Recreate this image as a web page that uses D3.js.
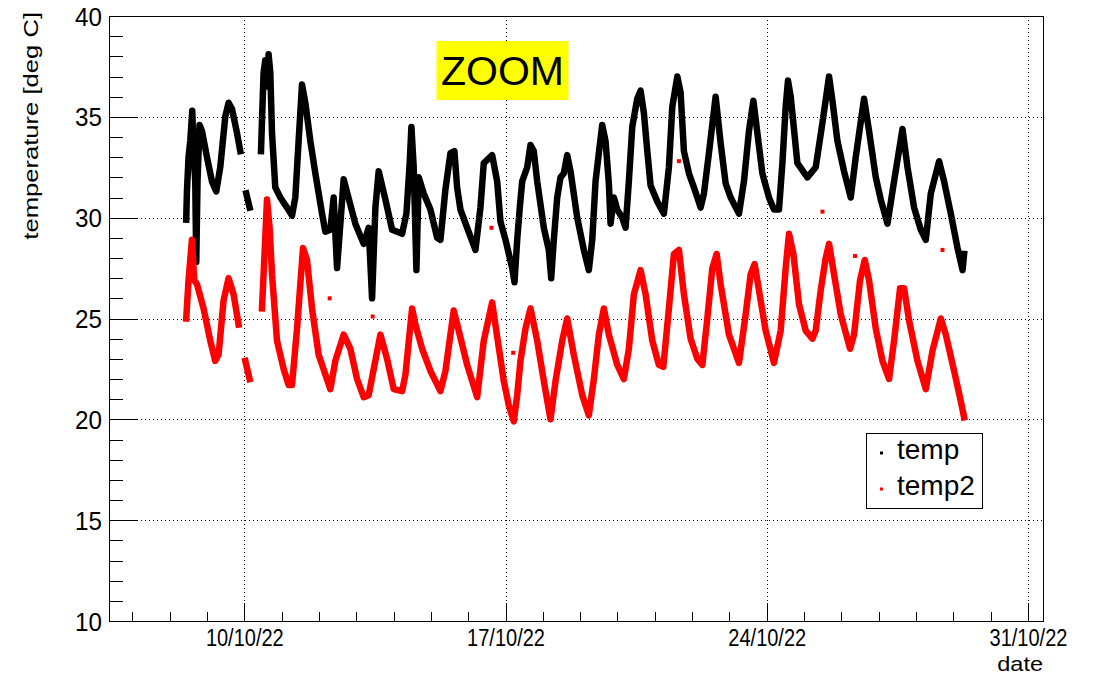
<!DOCTYPE html>
<html>
<head>
<meta charset="utf-8">
<script src="https://cdn.jsdelivr.net/npm/d3@7"></script>
<style>
  html, body { margin: 0; padding: 0; background: #fff; }
  svg { display: block; }
  text { font-family: "Liberation Sans", Arial, Helvetica, sans-serif; fill: #000; }
</style>
</head>
<body>
<svg id="chart" width="1102" height="677"></svg>
<script>
// ---------------- data ----------------
const xDomain = ["2022-10-06 09:00", "2022-10-31 09:40"];
const yDomain = [10, 40];
const xMajorTicks = ["2022-10-10 00:00", "2022-10-17 00:00", "2022-10-24 00:00", "2022-10-31 00:00"];
const yMajorTicks = [10, 15, 20, 25, 30, 35, 40];
const seriesNames = ["temp", "temp2"];
const seriesColors = ["#000000", "#ff0000"];

// null entries mark gaps in the recording
const tempTimes = [
  "2022-10-08 10:40","2022-10-08 11:07","2022-10-08 12:09","2022-10-08 13:15","2022-10-08 14:32",
  "2022-10-08 15:22","2022-10-08 16:28","2022-10-08 17:07","2022-10-08 17:56","2022-10-08 19:14",
  "2022-10-08 20:47","2022-10-09 00:00","2022-10-09 03:13","2022-10-09 05:59","2022-10-09 08:33",
  "2022-10-09 11:46","2022-10-09 13:54","2022-10-09 16:05","2022-10-09 19:18","2022-10-09 21:26",
  "2022-10-09 23:00",
  "2022-10-10 01:17","2022-10-10 03:25",
  "2022-10-10 07:00",
  "2022-10-10 10:45","2022-10-10 12:25","2022-10-10 13:31","2022-10-10 14:37","2022-10-10 15:38",
  "2022-10-10 16:44","2022-10-10 17:50","2022-10-10 19:57","2022-10-10 23:10","2022-10-11 03:29",
  "2022-10-11 06:42","2022-10-11 08:49","2022-10-11 10:57","2022-10-11 13:08","2022-10-11 15:16",
  "2022-10-11 18:29","2022-10-11 21:42","2022-10-12 02:01","2022-10-12 04:08","2022-10-12 07:21",
  "2022-10-12 09:28","2022-10-12 11:40","2022-10-12 15:55","2022-10-12 23:26","2022-10-13 04:47",
  "2022-10-13 08:00","2022-10-13 10:11","2022-10-13 12:19","2022-10-13 14:26","2022-10-13 18:45",
  "2022-10-13 23:04","2022-10-14 05:30","2022-10-14 08:16","2022-10-14 10:23","2022-10-14 11:29",
  "2022-10-14 12:58","2022-10-14 14:42","2022-10-14 16:11","2022-10-14 19:24","2022-10-14 23:43",
  "2022-10-15 04:01","2022-10-15 06:09","2022-10-15 09:22","2022-10-15 12:35","2022-10-15 15:09",
  "2022-10-15 16:53","2022-10-15 19:01","2022-10-15 23:20","2022-10-16 04:40","2022-10-16 07:53",
  "2022-10-16 10:01","2022-10-16 15:25","2022-10-16 18:38","2022-10-16 20:46","2022-10-17 00:00",
  "2022-10-17 04:17","2022-10-17 05:46","2022-10-17 07:31","2022-10-17 09:11","2022-10-17 10:44",
  "2022-10-17 13:57","2022-10-17 16:04","2022-10-17 18:11","2022-10-17 20:23","2022-10-18 00:38",
  "2022-10-18 03:51","2022-10-18 05:23","2022-10-18 07:04","2022-10-18 09:15","2022-10-18 11:23",
  "2022-10-18 13:30","2022-10-18 15:41","2022-10-18 17:49","2022-10-18 22:07","2022-10-19 02:22",
  "2022-10-19 05:35","2022-10-19 07:47","2022-10-19 09:54","2022-10-19 12:02","2022-10-19 14:13",
  "2022-10-19 16:20","2022-10-19 18:28","2022-10-19 19:34","2022-10-19 21:41","2022-10-19 23:52",
  "2022-10-20 03:05","2022-10-20 05:13","2022-10-20 07:20","2022-10-20 09:31","2022-10-20 12:44",
  "2022-10-20 14:52","2022-10-20 16:59","2022-10-20 19:11","2022-10-20 21:18","2022-10-21 01:37",
  "2022-10-21 03:44","2022-10-21 05:52","2022-10-21 09:05","2022-10-21 11:16","2022-10-21 14:29",
  "2022-10-21 16:37","2022-10-21 18:44","2022-10-21 21:57","2022-10-22 01:10","2022-10-22 03:22",
  "2022-10-22 05:29","2022-10-22 07:37","2022-10-22 10:49","2022-10-22 15:08","2022-10-22 18:21",
  "2022-10-22 21:34","2022-10-23 00:47","2022-10-23 06:08","2022-10-23 09:21","2022-10-23 12:34",
  "2022-10-23 15:24","2022-10-23 17:58","2022-10-23 21:11","2022-10-24 01:26","2022-10-24 04:40",
  "2022-10-24 07:53","2022-10-24 10:04","2022-10-24 12:11","2022-10-24 13:40","2022-10-24 15:25",
  "2022-10-24 19:43","2022-10-25 02:09","2022-10-25 07:30","2022-10-25 11:49","2022-10-25 16:04",
  "2022-10-25 18:15","2022-10-25 21:28","2022-10-26 01:43","2022-10-26 06:01","2022-10-26 09:14",
  "2022-10-26 14:35","2022-10-26 17:48","2022-10-26 22:07","2022-10-27 01:20","2022-10-27 05:38",
  "2022-10-27 09:53","2022-10-27 15:18","2022-10-27 18:31","2022-10-27 22:46","2022-10-28 03:04",
  "2022-10-28 06:17","2022-10-28 09:31","2022-10-28 14:51","2022-10-28 18:04","2022-10-28 22:23",
  "2022-10-29 02:41","2022-10-29 05:55","2022-10-29 06:56"
];
const tempValues = [
  29.9,31.3,33.0,33.8,35.3, 33.3,31.8,27.8,31.8,34.6, 34.3,33.0,31.8,31.3,32.5,
  35.0,35.7,35.4,34.2,33.3,
  null,
  31.2,30.5,
  null,
  33.3,37.2,37.8,36.5,38.1, 37.2,34.2,31.5,31.0,30.5, 30.1,31.0,33.8,36.6,35.7,
  33.8,32.2,30.2,29.3,29.4, 31.0,27.5,31.9,29.7,28.7, 29.5,26.0,30.5,32.3,30.9,
  29.4,29.2,30.2,32.7,34.5, 32.5,27.4,32.0,31.2,30.4, 29.0,28.9,31.4,33.2,33.3,
  31.5,30.4,29.5,28.4,30.5, 32.7,33.1,31.8,29.8,28.9, 27.5,26.8,28.9,30.5,31.8,
  32.5,33.6,33.3,31.8,29.5, 28.4,27.0,28.9,31.0,32.0, 32.2,33.1,32.3,30.0,28.4,
  27.4,28.9,31.8,33.2,34.6, 33.8,31.7,29.7,31.0,30.4, 30.0,29.5,31.8,34.5,35.9,
  36.3,35.2,33.3,31.6,30.8, 30.5,30.2,32.5,35.5,37.0, 36.2,33.3,32.2,31.5,31.0,
  30.5,31.2,33.2,36.0,33.7, 31.7,31.0,30.2,31.8,34.3, 35.8,34.2,32.2,31.0,30.4,
  30.4,32.7,35.5,36.8,36.0, 32.7,32.0,32.5,34.7,37.0, 35.8,33.8,32.3,31.0,33.0,
  35.9,34.3,32.0,30.9,29.7, 31.8,34.4,32.5,30.5,29.4, 28.9,31.2,32.8,31.8,30.2,
  28.5,27.4,28.2
];

const temp2Times = [
  "2022-10-08 10:40","2022-10-08 12:09","2022-10-08 14:20","2022-10-08 15:49","2022-10-08 17:34",
  "2022-10-08 21:48","2022-10-09 02:07","2022-10-09 05:20","2022-10-09 07:28","2022-10-09 10:41",
  "2022-10-09 13:54","2022-10-09 17:07","2022-10-09 20:20",
  "2022-10-09 22:30",
  "2022-10-10 00:39","2022-10-10 03:25",
  "2022-10-10 07:00",
  "2022-10-10 11:23","2022-10-10 12:25","2022-10-10 14:37","2022-10-10 16:17","2022-10-10 17:50",
  "2022-10-10 21:03","2022-10-11 01:18","2022-10-11 04:31","2022-10-11 06:42","2022-10-11 09:55",
  "2022-10-11 13:47","2022-10-11 16:21","2022-10-11 19:34","2022-10-11 23:49","2022-10-12 07:21",
  "2022-10-12 10:34","2022-10-12 15:55","2022-10-12 20:13","2022-10-13 00:32","2022-10-13 04:47",
  "2022-10-13 08:00","2022-10-13 15:32","2022-10-13 19:50","2022-10-14 00:05","2022-10-14 05:30",
  "2022-10-14 07:37","2022-10-14 11:56","2022-10-14 14:04","2022-10-14 18:22","2022-10-14 23:43",
  "2022-10-15 06:09","2022-10-15 09:22","2022-10-15 14:43","2022-10-15 17:55","2022-10-15 23:20",
  "2022-10-16 05:46","2022-10-16 10:01","2022-10-16 15:25","2022-10-16 18:38","2022-10-16 22:53",
  "2022-10-17 02:06","2022-10-17 05:19","2022-10-17 07:31","2022-10-17 09:38","2022-10-17 12:51",
  "2022-10-17 16:04","2022-10-17 20:23","2022-10-18 00:38","2022-10-18 04:56","2022-10-18 08:10",
  "2022-10-18 12:28","2022-10-18 15:41","2022-10-18 19:56","2022-10-19 01:21","2022-10-19 05:35",
  "2022-10-19 08:49","2022-10-19 12:02","2022-10-19 15:15","2022-10-19 18:28","2022-10-19 23:52",
  "2022-10-20 04:08","2022-10-20 07:20","2022-10-20 10:33","2022-10-20 14:52","2022-10-20 18:05",
  "2022-10-20 22:24","2022-10-21 02:38","2022-10-21 05:29","2022-10-21 09:05","2022-10-21 12:18",
  "2022-10-21 15:31","2022-10-21 18:44","2022-10-21 23:03","2022-10-22 03:22","2022-10-22 06:35",
  "2022-10-22 09:47","2022-10-22 13:01","2022-10-22 15:47","2022-10-22 18:21","2022-10-22 23:42",
  "2022-10-23 06:08","2022-10-23 10:26","2022-10-23 13:40","2022-10-23 16:14","2022-10-23 19:00",
  "2022-10-23 23:19","2022-10-24 04:40","2022-10-24 08:58","2022-10-24 12:11","2022-10-24 14:19",
  "2022-10-24 17:08","2022-10-24 20:45","2022-10-25 01:04","2022-10-25 05:22","2022-10-25 07:30",
  "2022-10-25 10:43","2022-10-25 13:56","2022-10-25 16:04","2022-10-25 19:16","2022-10-25 23:35",
  "2022-10-26 05:34","2022-10-26 08:08","2022-10-26 12:01","2022-10-26 15:02","2022-10-26 17:48",
  "2022-10-26 22:07","2022-10-27 02:25","2022-10-27 06:40","2022-10-27 09:53","2022-10-27 13:45",
  "2022-10-27 16:20","2022-10-27 19:32","2022-10-28 00:57","2022-10-28 06:17","2022-10-28 10:36",
  "2022-10-28 15:56","2022-10-28 19:10","2022-10-29 00:30","2022-10-29 04:49","2022-10-29 06:56"
];
const temp2Values = [
  25.0,26.9,28.9,26.9,26.7, 25.5,23.9,22.9,23.2,25.9, 27.0,26.2,24.7,
  null,
  22.9,22.0,
  null,
  25.5,27.2,30.9,29.5,27.2, 23.9,22.5,21.7,21.7,24.5, 28.5,27.9,25.5,23.2,21.5,
  22.9,24.2,23.5,22.0,21.1, 21.2,24.2,23.0,21.5,21.4, 22.2,25.5,24.7,23.5,22.4,
  21.4,22.4,25.4,24.4,22.7, 21.1,23.9,25.8,24.1,21.9, 20.7,19.9,21.2,22.9,24.5,
  25.5,23.9,21.9,20.0,21.9, 23.9,25.0,23.2,21.2,20.2, 22.0,24.2,25.5,24.2,22.7,
  22.0,23.5,26.2,27.4,26.2, 23.9,22.7,22.6,25.5,28.2, 28.4,26.2,24.0,23.0,22.7,
  25.0,27.5,28.2,26.7,24.2, 22.8,25.2,27.2,27.7,26.4, 24.4,22.8,24.4,27.5,29.2,
  28.2,25.7,24.4,24.0,24.4, 26.4,28.0,28.7,27.2,25.2, 23.5,24.2,26.9,27.9,26.9,
  24.5,22.9,22.0,23.9,26.5, 26.5,24.9,22.9,21.5,23.4, 25.0,24.2,22.4,20.9,20.1
];

// isolated single readings of temp2
const temp2SpikeTimes = [
  "2022-10-12 06:54","2022-10-13 10:35","2022-10-16 14:58","2022-10-17 04:56",
  "2022-10-21 15:31","2022-10-25 11:49","2022-10-26 08:47","2022-10-28 17:02"
];
const temp2SpikeValues = [26.0, 25.1, 29.5, 23.3, 32.8, 30.3, 28.1, 28.4];

// ---------------- chart ----------------
const parse = d3.utcParse("%Y-%m-%d %H:%M");
const frame = { left: 109, right: 1043, top: 16, bottom: 621 };

const svg = d3.select("#chart");

const x = d3.scaleUtc().domain(xDomain.map(parse)).range([frame.left, frame.right]);
const y = d3.scaleLinear().domain(yDomain).range([frame.bottom, frame.top]);

const zip = (ts, vs) => ts.map((t, i) => ({ t: parse(t), v: vs[i] }));
const tempData = zip(tempTimes, tempValues);
const temp2Data = zip(temp2Times, temp2Values);
const spikeData = zip(temp2SpikeTimes, temp2SpikeValues);

const majorDates = xMajorTicks.map(parse);
const minorDates = d3.utcDay.range(x.domain()[0], x.domain()[1])
  .filter(d => !majorDates.some(m => +m === +d));
const yMinor = d3.range(yDomain[0], yDomain[1] + 1, 1).filter(v => !yMajorTicks.includes(v));

// grid (dotted)
const grid = svg.append("g").attr("stroke", "#000").attr("stroke-width", 1)
  .attr("stroke-dasharray", "1 3").attr("shape-rendering", "crispEdges");
grid.selectAll(".gx").data(majorDates).join("line")
  .attr("x1", d => Math.round(x(d)) + 0.5).attr("x2", d => Math.round(x(d)) + 0.5)
  .attr("y1", frame.bottom).attr("y2", frame.top);
grid.selectAll(".gy").data(yMajorTicks.filter(v => v > yDomain[0] && v < yDomain[1])).join("line")
  .attr("y1", d => Math.round(y(d)) + 0.5).attr("y2", d => Math.round(y(d)) + 0.5)
  .attr("x1", frame.left).attr("x2", frame.right);

// series lines
const line = d3.line().defined(d => d.v != null).x(d => x(d.t)).y(d => y(d.v));
[[tempData, seriesColors[0]], [temp2Data, seriesColors[1]]].forEach(([data, color]) => {
  svg.append("path").datum(data)
    .attr("d", line)
    .attr("fill", "none")
    .attr("stroke", color)
    .attr("stroke-width", 6.5)
    .attr("stroke-linejoin", "round")
    .attr("stroke-linecap", "square");
});
svg.append("g").selectAll("rect").data(spikeData).join("rect")
  .attr("x", d => x(d.t) - 2).attr("y", d => y(d.v) - 2)
  .attr("width", 4).attr("height", 4).attr("fill", seriesColors[1]);

// axes
const fmt = d3.utcFormat("%d/%m/%y");
const xAxis = svg.append("g").attr("transform", `translate(0,${frame.bottom})`)
  .call(d3.axisBottom(x).tickValues(majorDates).tickSize(-18).tickPadding(9).tickFormat(fmt));
xAxis.select(".domain").remove();
xAxis.selectAll(".tick text")
  .attr("font-size", 20).attr("font-family", "Liberation Sans, Arial, sans-serif")
  .attr("dy", null).attr("y", null)
  .attr("transform", "translate(0,25) scale(1,1.22)");
svg.append("g").attr("transform", `translate(0,${frame.bottom})`)
  .call(d3.axisBottom(x).tickValues(minorDates).tickSize(-9).tickFormat(""))
  .select(".domain").remove();

const yAxis = svg.append("g").attr("transform", `translate(${frame.left},0)`)
  .call(d3.axisLeft(y).tickValues(yMajorTicks).tickSize(-28).tickPadding(7).tickFormat(d3.format("d")));
yAxis.select(".domain").remove();
yAxis.selectAll(".tick text")
  .attr("font-size", 22).attr("font-family", "Liberation Sans, Arial, sans-serif")
  .attr("dy", null).attr("x", null)
  .attr("transform", "translate(-7,9) scale(1.1,1.15)");
svg.append("g").attr("transform", `translate(${frame.left},0)`)
  .call(d3.axisLeft(y).tickValues(yMinor).tickSize(-14).tickFormat(""))
  .select(".domain").remove();

svg.selectAll(".tick line").attr("stroke", "#000").attr("shape-rendering", "crispEdges");

// frame
svg.append("rect")
  .attr("x", frame.left + 0.5).attr("y", frame.top + 0.5)
  .attr("width", frame.right - frame.left).attr("height", frame.bottom - frame.top)
  .attr("fill", "none").attr("stroke", "#000").attr("stroke-width", 1)
  .attr("shape-rendering", "crispEdges");

// axis titles
svg.append("text")
  .attr("transform", `translate(${frame.right},671) scale(1.12,1)`)
  .attr("text-anchor", "end").attr("font-size", 21).text("date");
svg.append("text")
  .attr("transform", `translate(38,12) rotate(-90) scale(1.28,1)`)
  .attr("text-anchor", "end").attr("font-size", 20).text("temperature [deg C]");

// ZOOM label
const zx = x(parse("2022-10-17 00:00"));
svg.append("rect").attr("x", zx - 69).attr("y", 41).attr("width", 132).attr("height", 59)
  .attr("fill", "#ffff00");
svg.append("text").attr("x", zx - 3).attr("y", 85).attr("text-anchor", "middle")
  .attr("font-family", "DejaVu Sans, Verdana, sans-serif").attr("font-size", 41).text("ZOOM");

// legend
const lg = svg.append("g");
lg.append("rect").attr("x", 866.5).attr("y", 433.5).attr("width", 116).attr("height", 75)
  .attr("fill", "#fff").attr("stroke", "#000").attr("stroke-width", 1).attr("shape-rendering", "crispEdges");
seriesNames.forEach((name, i) => {
  const cy = 453 + i * 36;
  lg.append("rect").attr("x", 880).attr("y", cy - 1.5).attr("width", 3).attr("height", 3)
    .attr("fill", seriesColors[i]);
  lg.append("text").attr("x", 897).attr("y", cy + 6).attr("font-size", 28).text(name);
});
</script>
</body>
</html>
